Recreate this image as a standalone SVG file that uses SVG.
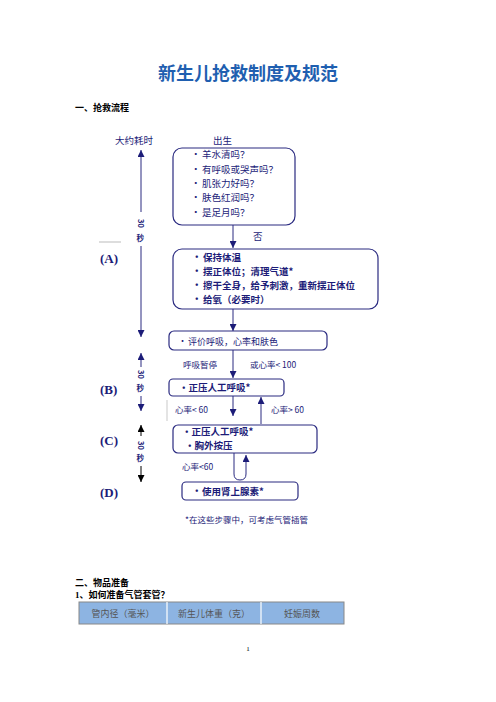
<svg xmlns="http://www.w3.org/2000/svg" width="496" height="702" viewBox="0 0 496 702">
<defs>
<style>
.cjk{font-family:"Noto Sans CJK SC","Liberation Sans",sans-serif;}
.nv{fill:#1c1c78;}
.it{font-size:9.5px;}
.b{font-weight:bold;}
.box{fill:none;stroke:#2a2a80;stroke-width:1.2;}
.ln{stroke:#2a2a80;stroke-width:1;fill:none;}
.lbl{font-family:"Liberation Serif",serif;font-weight:bold;font-size:13px;fill:#1c1c78;}
.sec{font-family:"Liberation Serif","Noto Sans CJK SC",serif;font-weight:bold;font-size:9px;fill:#000;}
.th{font-family:"Noto Sans CJK SC",serif;font-size:9px;fill:#555;text-anchor:middle;}
</style>
<marker id="ah" viewBox="0 0 10 10" refX="10" refY="5" markerWidth="7" markerHeight="7" orient="auto-start-reverse" markerUnits="userSpaceOnUse">
<path d="M0,0 L10,5 L0,10 z" fill="#1c1c78"/>
</marker>
<marker id="ahk" viewBox="0 0 10 10" refX="10" refY="5" markerWidth="7" markerHeight="7" orient="auto-start-reverse" markerUnits="userSpaceOnUse">
<path d="M0,0 L10,5 L0,10 z" fill="#000"/>
</marker>
</defs>
<rect width="496" height="702" fill="#fff"/>

<text x="248" y="80" text-anchor="middle" class="cjk b" font-size="18" fill="#1f5fb0">新生儿抢救制度及规范</text>
<text x="75" y="111" class="sec">一、抢救流程</text>

<g id="timeline">
<text x="115" y="144" class="cjk nv" font-size="9.5">大约耗时</text>
<line x1="141" y1="150" x2="141" y2="212" class="ln" marker-start="url(#ah)"/>
<text transform="translate(138,219) rotate(90)" class="cjk nv b" font-size="7.5">30</text>
<text x="136.5" y="241" class="cjk nv b" font-size="7.5">秒</text>
<line x1="141" y1="246" x2="141" y2="337" class="ln" marker-end="url(#ah)"/>
<line x1="99" y1="242" x2="121" y2="242" stroke="#aaa" stroke-width="0.8"/>
<text x="100" y="263" class="lbl">(A)</text>

<line x1="141" y1="353" x2="141" y2="367" class="ln" marker-start="url(#ah)"/>
<text transform="translate(138,370) rotate(90)" class="cjk nv b" font-size="7.5">30</text>
<text x="136.5" y="391" class="cjk nv b" font-size="7.5">秒</text>
<line x1="141" y1="396" x2="141" y2="411" class="ln" marker-end="url(#ah)"/>
<text x="100" y="394" class="lbl">(B)</text>

<line x1="141" y1="425" x2="141" y2="436" stroke="#000" stroke-width="1" marker-start="url(#ahk)"/>
<text transform="translate(138,441) rotate(90)" class="cjk b" font-size="7.5" fill="#1c1c78">30</text>
<text x="136.5" y="461" class="cjk nv b" font-size="7.5">秒</text>
<line x1="141" y1="466" x2="141" y2="482" stroke="#000" stroke-width="1" marker-end="url(#ahk)"/>
<text x="100" y="445" class="lbl">(C)</text>
<text x="100" y="497" class="lbl">(D)</text>
</g>

<g id="birth">
<text x="213" y="144" class="cjk nv" font-size="9.5">出生</text>
</g>

<g id="connectors">
<line x1="233" y1="225" x2="233" y2="248" class="ln" marker-end="url(#ah)"/>
<text x="253" y="240" class="cjk nv" font-size="9.5">否</text>
<line x1="233" y1="309" x2="233" y2="331" class="ln" marker-end="url(#ah)"/>
<line x1="233" y1="350" x2="233" y2="378" class="ln" marker-end="url(#ah)"/>
<text x="183" y="368" class="cjk nv" font-size="8.5">呼吸暂停</text>
<text x="250" y="368" class="cjk nv" font-size="8.5">或心率&lt; 100</text>
<line x1="233" y1="396" x2="233" y2="416" class="ln" marker-end="url(#ah)"/>
<line x1="261" y1="424" x2="261" y2="397" class="ln" marker-end="url(#ah)"/>
<line x1="167" y1="400" x2="167" y2="421" stroke="#bbb" stroke-width="0.8"/>
<text x="175" y="413" class="cjk nv" font-size="8.5">心率&lt; 60</text>
<text x="271" y="413" class="cjk nv" font-size="8.5">心率&gt; 60</text>
<path d="M234,453 L234,474 Q234,480 240,480 Q246,480 246,474 L246,455" class="ln" marker-end="url(#ah)"/>
<text x="182" y="470" class="cjk nv" font-size="8.5">心率&lt;60</text>
</g>

<g id="box1">
<rect x="173" y="148" width="122" height="77" rx="9" class="box"/>
<g class="cjk nv it">
<text x="191" y="157">•</text><text x="202" y="158">羊水清吗？</text>
<text x="191" y="172">•</text><text x="202" y="173">有呼吸或哭声吗？</text>
<text x="191" y="186">•</text><text x="202" y="187">肌张力好吗？</text>
<text x="191" y="200">•</text><text x="202" y="201">肤色红润吗？</text>
<text x="191" y="215">•</text><text x="202" y="216">是足月吗？</text>
</g>
</g>

<g id="boxA">
<rect x="173" y="249" width="205" height="60" rx="9" class="box"/>
<g class="cjk nv it b">
<text x="192" y="260">•</text><text x="203" y="261">保持体温</text>
<text x="192" y="274">•</text><text x="203" y="275">摆正体位；清理气道*</text>
<text x="192" y="288">•</text><text x="203" y="289">擦干全身，给予刺激，重新摆正体位</text>
<text x="192" y="302">•</text><text x="203" y="303">给氧（必要时）</text>
</g>
</g>

<g id="eval">
<rect x="169" y="331" width="158" height="19" rx="5" class="box"/>
<text x="178" y="344" class="cjk nv" font-size="9">•</text>
<text x="188" y="345" class="cjk nv" font-size="9">评价呼吸，心率和肤色</text>
</g>

<g id="boxB">
<rect x="169" y="379" width="115" height="17" rx="4" class="box"/>
<text x="179" y="391" class="cjk nv b" font-size="9.5">•正压人工呼吸*</text>
</g>

<g id="boxC">
<rect x="173" y="425" width="144" height="28" rx="5" class="box"/>
<text x="182" y="435" class="cjk nv b" font-size="9.5">•正压人工呼吸*</text>
<text x="185" y="449" class="cjk nv b" font-size="9.5">•胸外按压</text>
</g>

<g id="boxD">
<rect x="182" y="482" width="116" height="18" rx="4" class="box"/>
<text x="192" y="494" class="cjk nv b" font-size="9.5">•</text>
<text x="202" y="495" class="cjk nv b" font-size="9.5">使用肾上腺素*</text>
</g>

<text x="185" y="523" class="cjk nv" font-size="8.5">*在这些步骤中，可考虑气管插管</text>

<text x="75" y="586" class="sec">二、物品准备</text>
<text x="75" y="598" class="sec">1、如何准备气管套管？</text>

<g id="table">
<rect x="79" y="602" width="265" height="22" fill="#8db4e2" stroke="#888" stroke-width="1"/>
<line x1="167" y1="602" x2="167" y2="624" stroke="#fff" stroke-width="1.2"/>
<line x1="261" y1="602" x2="261" y2="624" stroke="#fff" stroke-width="1.2"/>
<text x="123" y="617" class="th">管内径（毫米）</text>
<text x="214" y="617" class="th">新生儿体重（克）</text>
<text x="302" y="617" class="th">妊娠周数</text>
</g>

<text x="248" y="651" text-anchor="middle" font-family="Liberation Serif,serif" font-size="7" fill="#000">1</text>
</svg>
